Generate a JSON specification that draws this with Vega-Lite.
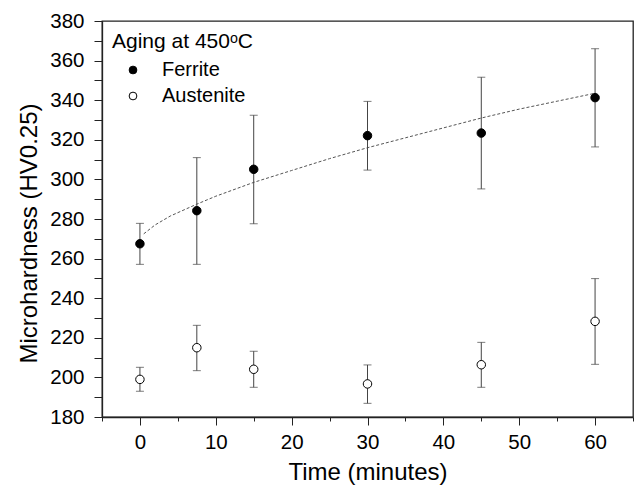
{
  "$schema": "https://vega.github.io/schema/vega-lite/v6.json",
  "width": 531,
  "height": 396,
  "autosize": {"type": "none"},
  "padding": {"left": 102, "top": 21, "right": 6, "bottom": 68},
  "background": "white",
  "config": {
    "font": "Liberation Sans",
    "view": {"stroke": "#222", "strokeWidth": 1.3},
    "axis": {
      "grid": false,
      "domainColor": "#222",
      "domainWidth": 1.3,
      "tickColor": "#222",
      "labelColor": "black",
      "titleColor": "black",
      "labelFontSize": 20.5,
      "titleFontSize": 24,
      "titleFontWeight": "normal",
      "labelFlush": false,
      "labelOverlap": false,
      "tickSize": {"condition": {"test": "datum.value % 10 === 0", "value": 8}, "value": 4}
    }
  },
  "datasets": {
    "meas": [
      {"phase": "Ferrite", "t": 0, "hv": 267.5, "lo": 257.1, "hi": 277.8},
      {"phase": "Ferrite", "t": 7.5, "hv": 284.2, "lo": 257.1, "hi": 311.0},
      {"phase": "Ferrite", "t": 15, "hv": 305.1, "lo": 277.6, "hi": 332.4},
      {"phase": "Ferrite", "t": 30, "hv": 322.1, "lo": 304.7, "hi": 339.4},
      {"phase": "Ferrite", "t": 45, "hv": 323.4, "lo": 295.2, "hi": 351.6},
      {"phase": "Ferrite", "t": 60, "hv": 341.3, "lo": 316.4, "hi": 366.0},
      {"phase": "Austenite", "t": 0, "hv": 199.0, "lo": 193.0, "hi": 205.1},
      {"phase": "Austenite", "t": 7.5, "hv": 215.0, "lo": 203.4, "hi": 226.3},
      {"phase": "Austenite", "t": 15, "hv": 204.1, "lo": 195.0, "hi": 213.2},
      {"phase": "Austenite", "t": 30, "hv": 196.7, "lo": 186.9, "hi": 206.3},
      {"phase": "Austenite", "t": 45, "hv": 206.4, "lo": 195.0, "hi": 217.7},
      {"phase": "Austenite", "t": 60, "hv": 228.3, "lo": 206.6, "hi": 249.9}
    ],
    "fit": [
      {"t": 0.5, "hv": 272.5},
      {"t": 2, "hv": 277},
      {"t": 4, "hv": 281.5},
      {"t": 7.5, "hv": 287.5},
      {"t": 10, "hv": 291.5},
      {"t": 15, "hv": 298.5},
      {"t": 20, "hv": 304.5},
      {"t": 25, "hv": 310.5},
      {"t": 30, "hv": 316},
      {"t": 35, "hv": 321},
      {"t": 40, "hv": 326},
      {"t": 45, "hv": 331},
      {"t": 50, "hv": 335.5},
      {"t": 55, "hv": 339.5},
      {"t": 60, "hv": 343.5}
    ]
  },
  "encoding": {
    "x": {
      "field": "t",
      "type": "quantitative",
      "scale": {"domain": [-5, 65], "nice": false, "zero": false},
      "axis": {
        "title": "Time (minutes)",
        "values": [-5, 0, 5, 10, 15, 20, 25, 30, 35, 40, 45, 50, 55, 60, 65],
        "labelExpr": "datum.value % 10 === 0 ? datum.label : ''",
        "labelPadding": 7,
        "titlePadding": 8
      }
    },
    "y": {
      "field": "hv",
      "type": "quantitative",
      "scale": {"domain": [180, 380], "nice": false, "zero": false},
      "axis": {
        "title": "Microhardness (HV0.25)",
        "values": [180, 190, 200, 210, 220, 230, 240, 250, 260, 270, 280, 290, 300, 310, 320, 330, 340, 350, 360, 370, 380],
        "labelExpr": "datum.value % 20 === 0 ? datum.label : ''",
        "labelPadding": 10,
        "titlePadding": 8,
        "titleY": 212
      }
    }
  },
  "layer": [
    {
      "data": {"name": "fit"},
      "mark": {"type": "line", "strokeDash": [3, 2], "color": "#555", "strokeWidth": 1}
    },
    {
      "data": {"name": "meas"},
      "mark": {"type": "errorbar", "color": "#444", "thickness": 1, "ticks": {"size": 8, "color": "#444"}},
      "encoding": {
        "y": {"field": "lo", "type": "quantitative"},
        "y2": {"field": "hi"}
      }
    },
    {
      "data": {"name": "meas"},
      "mark": {"type": "point", "shape": "circle", "filled": true, "stroke": "black", "strokeWidth": 1, "size": 72, "opacity": 1},
      "encoding": {
        "fill": {
          "field": "phase",
          "type": "nominal",
          "scale": {"domain": ["Ferrite", "Austenite"], "range": ["black", "white"]},
          "legend": {
            "title": "Aging at 450ᵒC",
            "orient": "top-left",
            "offset": 10,
            "padding": 0,
            "titleFontSize": 21,
            "titleFontWeight": "normal",
            "titleColor": "black",
            "titlePadding": 8,
            "labelFontSize": 20,
            "labelColor": "black",
            "symbolType": "circle",
            "symbolSize": 60,
            "symbolStrokeColor": "black",
            "symbolStrokeWidth": 1,
            "symbolOffset": 11,
            "labelOffset": 19,
            "rowPadding": 6
          }
        }
      }
    }
  ]
}
